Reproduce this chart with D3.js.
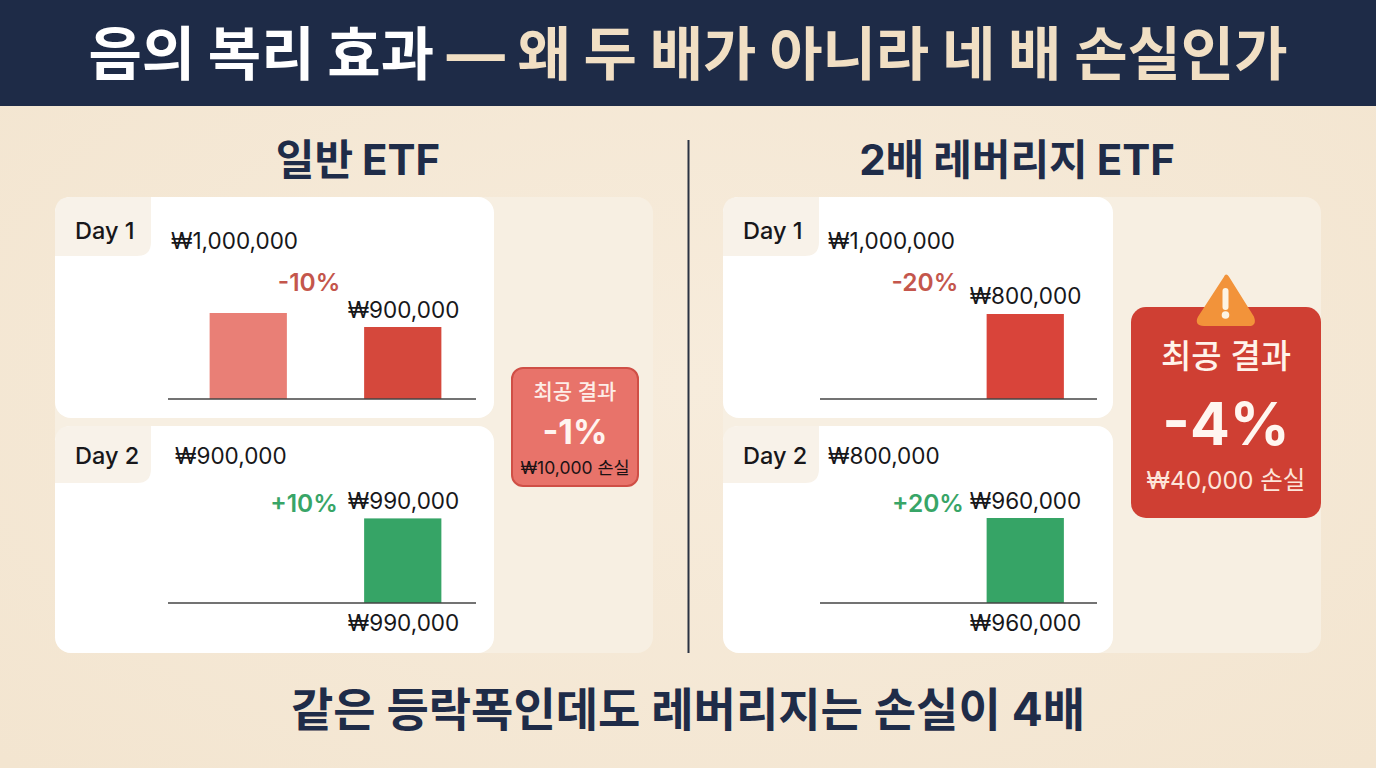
<!DOCTYPE html>
<html lang="ko"><head><meta charset="utf-8">
<script src="https://cdn.jsdelivr.net/npm/d3@7"></script>
<style>html,body{margin:0;padding:0;background:#f3e6d2;overflow:hidden}svg{display:block}text{font-family:Inter,"Noto Sans CJK KR","Noto Sans",sans-serif}</style>
</head><body><svg id="c" width="1376" height="768"></svg>
<script>
const titleWhite = "음의 복리 효과";
const titleTan = "— 왜 두 배가 아니라 네 배 손실인가";
const columnTitles = ["일반 ETF", "2배 레버리지 ETF"];
const footer = "같은 등락폭인데도 레버리지는 손실이 4배";
const dayLabels = ["Day 1", "Day 2"];
const slots = ["start", "end"];
const plainDay1 = [1000000, 900000];
const plainDay2 = [null, 990000];
const levDay1 = [null, 800000];
const levDay2 = [null, 960000];
// Bars in the reference are not drawn from a zero baseline: each panel has its own value window
const plainDomain = [386000, 1000000];
const levDay1Domain = [0, 800000];
const levDay2Domain = [0, 960000];
const plainPct = ["-10%", "+10%"];
const levPct = ["-20%", "+20%"];
const plainResult = ["최공 결과", "-1%", "₩10,000 손실"];
const levResult = ["최공 결과", "-4%", "₩40,000 손실"];
const won = d => "₩" + d3.format(",")(d);

const svg = d3.select("#c");
const defs = svg.append("defs");
const bg = defs.append("radialGradient").attr("id","bg").attr("cx","50%").attr("cy","50%").attr("r","70%");
bg.append("stop").attr("offset","0%").attr("stop-color","#f7ecdc");
bg.append("stop").attr("offset","100%").attr("stop-color","#f3e5d0");
svg.append("rect").attr("width",1376).attr("height",768).attr("fill","url(#bg)");
svg.append("rect").attr("width",1376).attr("height",106).attr("fill","#1e2b47");

function txt(x,y,s,size,weight,fill,anchor="middle",g=svg){
  return g.append("text").attr("x",x).attr("y",y).attr("font-size",size).attr("font-weight",weight)
    .attr("fill",fill).attr("text-anchor",anchor).text(s);
}
const t = svg.append("text").attr("x",688).attr("y",75).attr("text-anchor","middle").attr("font-size",58).attr("font-weight",700).attr("word-spacing",-1);
t.append("tspan").attr("fill","#ffffff").text(titleWhite+" ");
t.append("tspan").attr("fill","#f1dfc4").text(titleTan);

txt(358,175,columnTitles[0],42,700,"#1f2c48").attr("word-spacing",-1);
txt(1017,175,columnTitles[1],42,700,"#1f2c48").attr("word-spacing",-1);
txt(688,726,footer,46,700,"#1f2c48");
svg.append("line").attr("x1",688.5).attr("x2",688.5).attr("y1",140).attr("y2",653).attr("stroke","#2a3242").attr("stroke-width",2);

const navy="#17171a", red="#c4564c", green="#38a567";
const columns = [
 {panel:[55,653], card:[55,494], axis:[168,476], range:[171,480], tab:151, pctColor:red, result:plainResult,
  days:[
   {y:[197,418], base:399, top:313, vals:plainDay1, dom:plainDomain, colors:["#e97f76","#d5483c"], start:[171,241,"start"], pct:[309,282,plainPct[0],red], end:[403.5,310], below:null},
   {y:[426,653], base:603, top:517, vals:plainDay2, dom:plainDomain, colors:["#36a466","#36a466"], start:[175,456,"start"], pct:[304,503,plainPct[1],green], end:[403.5,501], below:[403.5,623,990000]}
  ]},
 {panel:[723,1321], card:[723,1113], axis:[820,1097], range:[793.5,1102.5], tab:819, pctColor:red, result:levResult,
  days:[
   {y:[197,418], base:399, top:314, vals:levDay1, dom:levDay1Domain, colors:["#d9443a","#d9443a"], start:[828,241,"start"], pct:[925,282,levPct[0],red], end:[1025.5,296], below:null},
   {y:[426,653], base:603, top:518, vals:levDay2, dom:levDay2Domain, colors:["#36a466","#36a466"], start:[828,456,"start"], pct:[928,503,levPct[1],green], end:[1025.5,501], below:[1025.5,623,960000]}
  ]}
];
const startVals = [[1000000,900000],[1000000,800000]];

columns.forEach((col,ci)=>{
  svg.append("rect").attr("x",col.panel[0]).attr("y",197).attr("width",col.panel[1]-col.panel[0]).attr("height",456).attr("rx",16).attr("fill","#f7efe2");
  const x = d3.scaleBand().domain(slots).range(col.range).paddingInner(.5).paddingOuter(.25);
  col.days.forEach((d,di)=>{
    const g = svg.append("g");
    const W = col.card[1]-col.card[0], H = d.y[1]-d.y[0];
    g.append("rect").attr("x",col.card[0]).attr("y",d.y[0]).attr("width",W).attr("height",H).attr("rx",16).attr("fill","#fff");
    const tabH = di==0?59:57;
    const tw = col.tab-col.card[0], X=col.card[0], Y=d.y[0];
    g.append("path").attr("d",`M${X} ${Y+tabH}V${Y+16}Q${X} ${Y} ${X+16} ${Y}H${X+tw}V${Y+tabH-14}Q${X+tw} ${Y+tabH} ${X+tw-14} ${Y+tabH}Z`).attr("fill","#f8f2e9");
    txt(X+20,d.y[0]+(di==0?42:38),dayLabels[di],23.5,500,"#17171a","start",g);
    const y = d3.scaleLinear().domain(d.dom).range([d.base,d.top]);
    g.selectAll("rect.bar").data(slots.map((s,i)=>({s,v:d.vals[i],c:d.colors[i]})).filter(e=>e.v!=null)).join("rect").attr("class","bar")
      .attr("x",e=>x(e.s)).attr("width",x.bandwidth()).attr("y",e=>y(e.v)).attr("height",e=>d.base-y(e.v)).attr("fill",e=>e.c);
    g.append("line").attr("x1",col.axis[0]).attr("x2",col.axis[1]).attr("y1",d.base).attr("y2",d.base).attr("stroke","#444").attr("stroke-width",1.5);
    txt(d.start[0],d.start[1]+8,won(startVals[ci][di]),22.5,400,navy,"start",g);
    txt(d.pct[0],d.pct[1]+9,d.pct[2],24.5,600,d.pct[3],"middle",g);
    const endV = d.vals[1];
    txt(d.end[0],d.end[1]+8,won(endV),22.5,400,navy,"middle",g);
    if(d.below) txt(d.below[0],d.below[1]+8,won(d.below[2]),22.5,400,navy,"middle",g);
  });
});

// result boxes
svg.append("rect").attr("x",512).attr("y",368).attr("width",126).attr("height",118).attr("rx",11).attr("fill","#e8736a").attr("stroke","#cf4f46").attr("stroke-width",2);
txt(575,399,plainResult[0],21,500,"#fdeee8");
txt(575,444,plainResult[1],34,700,"#fff4ef");
txt(575,474,plainResult[2],17.5,400,"#1b1214");

svg.append("rect").attr("x",1131).attr("y",307).attr("width",190).attr("height",211).attr("rx",15).attr("fill","#cf3f33");
svg.append("path").attr("d","M1225 277 Q1226 274 1228 277 L1253 317 Q1256 325 1249 325 L1204 325 Q1195 325 1199 317 Z").attr("fill","#f2933a").attr("stroke","#f2933a").attr("stroke-width",2).attr("stroke-linejoin","round");
svg.append("rect").attr("x",1222.5).attr("y",288).attr("width",6).attr("height",22).attr("rx",3).attr("fill","#fdf3e3");
svg.append("circle").attr("cx",1225.5).attr("cy",315).attr("r",3.8).attr("fill","#fdf3e3");
txt(1226,368,levResult[0],33,500,"#fff3ea");
txt(1226,445,levResult[1],59,700,"#fff6f0");
txt(1226,489,levResult[2],24.5,400,"#fde6da");
</script></body></html>
